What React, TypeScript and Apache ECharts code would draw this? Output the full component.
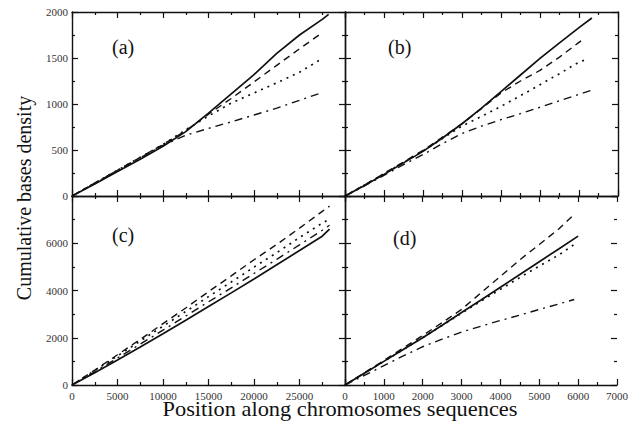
import React, { useEffect, useRef } from "react";
import * as echarts from "echarts";

// Panel (a): cumulative base density along the long sequences
const posA = [0, 2500, 5000, 7500, 10000, 12500, 15000, 17500, 20000, 22500, 25000, 27500, 28200];
const solidA = [0, 130, 265, 400, 540, 700, 900, 1110, 1320, 1550, 1750, 1920, 1975];
const dashedA = [0, 140, 280, 420, 560, 710, 890, 1060, 1240, 1420, 1600, 1775, null];
const dottedA = [0, 140, 280, 420, 560, 720, 870, 1010, 1120, 1230, 1345, 1495, null];
const dashDotA = [0, 140, 280, 415, 550, 660, 735, 806, 880, 955, 1040, 1125, null];

// Panel (b)
const posB = [0, 500, 1000, 1500, 2000, 2500, 3000, 3500, 4000, 4500, 5000, 5500, 6000, 6150, 6330];
const solidB = [0, 115, 235, 360, 485, 630, 785, 955, 1135, 1315, 1495, 1665, 1830, null, 1935];
const dashedB = [0, 120, 245, 370, 495, 640, 785, 950, 1120, 1250, 1365, 1510, 1670, 1717, null];
const dottedB = [0, 120, 240, 365, 490, 625, 760, 865, 975, 1090, 1210, 1330, 1455, 1478, null];
const dashDotB = [0, 110, 225, 340, 450, 570, 680, 760, 830, 895, 965, 1035, 1105, null, 1152];

// Panel (c)
const posC = [0, 2500, 5000, 7500, 10000, 12500, 15000, 17500, 20000, 22500, 25000, 27500, 28300];
const solidC = [0, 520, 1060, 1610, 2170, 2740, 3320, 3900, 4490, 5090, 5690, 6300, 6600];
const dashedC = [0, 630, 1280, 1930, 2600, 3260, 3950, 4620, 5300, 5950, 6640, 7350, 7570];
const dottedC = [0, 610, 1230, 1860, 2490, 3110, 3740, 4360, 4990, 5600, 6240, 6850, 7030];
const dashDotC = [0, 560, 1140, 1730, 2320, 2920, 3520, 4110, 4720, 5320, 5930, 6550, 6760];

// Panel (d)
const posD = [0, 500, 1000, 1500, 2000, 2500, 3000, 3500, 4000, 4500, 5000, 5500, 5900, 6000];
const solidD = [0, 500, 1000, 1500, 2000, 2530, 3070, 3600, 4140, 4680, 5220, 5760, null, 6300];
const dashedD = [0, 520, 1040, 1570, 2100, 2640, 3200, 3900, 4600, 5300, 5950, 6600, 7230, null];
const dottedD = [0, 500, 1000, 1500, 2010, 2520, 3040, 3550, 4050, 4550, 5030, 5500, 5950, null];
const dashDotD = [0, 410, 820, 1230, 1620, 1940, 2240, 2490, 2730, 2960, 3200, 3430, 3620, null];

const xTicksLeft = { max: 30000, interval: 5000 };
const xTicksRight = { max: 7000, interval: 1000 };
const yTicksTop = { max: 2000, interval: 500 };
const yTicksBottom = { max: 8000, interval: 2000 };

const FONT = '"Liberation Serif", "Times New Roman", serif';
const INK = "#111";

const pairs = (xs: number[], ys: (number | null)[]) =>
  xs.map((x, i) => [x, ys[i]] as [number, number | null]).filter((p) => p[1] !== null);

const grids = [
  { left: 72, top: 12, width: 273, height: 184 },
  { left: 345, top: 12, width: 273, height: 184 },
  { left: 72, top: 196, width: 273, height: 189 },
  { left: 345, top: 196, width: 273, height: 189 },
];

export default function App() {
  const ref = useRef<HTMLDivElement>(null);

  useEffect(() => {
    document.body.style.margin = "0";
    if (!ref.current) return;
    const chart = echarts.init(ref.current, undefined, { renderer: "svg" });

    const panelX = [xTicksLeft, xTicksRight, xTicksLeft, xTicksRight];
    const panelY = [yTicksTop, yTicksTop, yTicksBottom, yTicksBottom];

    const tick = () => ({
      show: true,
      inside: true,
      length: 6,
      lineStyle: { color: INK, width: 1.2 },
    });
    const minor = () => ({
      show: true,
      splitNumber: 2,
      length: 3,
      lineStyle: { color: INK, width: 1.2 },
    });
    const axisLine = (show = true) => ({
      show,
      onZero: false,
      lineStyle: { color: INK, width: 1.4 },
    });
    // a label at `hide` is left blank (it sits on a neighbouring panel's edge)
    const label = (hide: number | null) => ({
      fontFamily: FONT,
      fontSize: 11,
      color: "#333",
      formatter: (v: number) => (v === hide ? "" : String(v)),
    });

    const xAxis: any[] = [];
    const yAxis: any[] = [];
    for (let g = 0; g < 4; g++) {
      const xs = panelX[g];
      const ys = panelY[g];
      // bottom x axis (carries the series)
      xAxis.push({
        type: "value",
        gridIndex: g,
        position: "bottom",
        z: 10,
        min: 0,
        max: xs.max,
        interval: xs.interval,
        axisLine: axisLine(),
        axisTick: tick(),
        minorTick: minor(),
        splitLine: { show: false },
        axisLabel: { show: g >= 2, margin: 5, ...label(g === 2 ? xs.max : null) },
      });
      // mirrored top x axis
      xAxis.push({
        type: "value",
        gridIndex: g,
        position: "top",
        z: 10,
        min: 0,
        max: xs.max,
        interval: xs.interval,
        axisLine: axisLine(),
        axisTick: tick(),
        minorTick: minor(),
        splitLine: { show: false },
        axisLabel: { show: false },
      });
      // left y axis (carries the series)
      yAxis.push({
        type: "value",
        gridIndex: g,
        position: "left",
        z: 10,
        min: 0,
        max: ys.max,
        interval: ys.interval,
        axisLine: axisLine(),
        axisTick: tick(),
        minorTick: minor(),
        splitLine: { show: false },
        axisLabel: { show: g === 0 || g === 2, margin: 4, ...label(g === 2 ? ys.max : null) },
      });
      // mirrored right y axis
      yAxis.push({
        type: "value",
        gridIndex: g,
        position: "right",
        z: 10,
        min: 0,
        max: ys.max,
        interval: ys.interval,
        axisLine: axisLine(g !== 3),
        axisTick: tick(),
        minorTick: minor(),
        splitLine: { show: false },
        axisLabel: { show: false },
      });
    }

    const styles: Record<string, any> = {
      solid: { type: "solid", width: 1.7 },
      dashed: { type: [7, 5], width: 1.4 },
      dotted: { type: [2, 5], width: 1.7 },
      dashDot: { type: [8, 5, 2, 5], width: 1.4 },
    };

    const panels = [
      { x: posA, s: { solid: solidA, dashed: dashedA, dotted: dottedA, dashDot: dashDotA } },
      { x: posB, s: { solid: solidB, dashed: dashedB, dotted: dottedB, dashDot: dashDotB } },
      { x: posC, s: { solid: solidC, dashed: dashedC, dotted: dottedC, dashDot: dashDotC } },
      { x: posD, s: { solid: solidD, dashed: dashedD, dotted: dottedD, dashDot: dashDotD } },
    ];

    const series: any[] = [];
    panels.forEach((p, g) => {
      Object.entries(p.s).forEach(([kind, ys]) => {
        series.push({
          type: "line",
          name: `${kind}-${g}`,
          xAxisIndex: g * 2,
          yAxisIndex: g * 2,
          data: pairs(p.x, ys as (number | null)[]),
          showSymbol: false,
          symbol: "none",
          lineStyle: { color: INK, ...styles[kind] },
        });
      });
    });

    const panelLabel = (text: string, x: number, y: number) => ({
      type: "text",
      x,
      y,
      style: {
        text,
        font: `20px ${FONT}`,
        fill: INK,
        align: "left",
        verticalAlign: "middle",
      },
    });

    chart.setOption({
      animation: false,
      grid: grids,
      xAxis,
      yAxis,
      series,
      graphic: [
        panelLabel("(a)", 112, 47),
        panelLabel("(b)", 388, 47),
        panelLabel("(c)", 112, 235),
        panelLabel("(d)", 393, 238),
        {
          type: "text",
          x: 24,
          y: 198,
          rotation: Math.PI / 2,
          style: {
            text: "Cumulative bases density",
            font: `20px ${FONT}`,
            fill: INK,
            align: "center",
            verticalAlign: "middle",
          },
        },
        {
          type: "text",
          x: 340,
          y: 409,
          scaleX: 1.12,
          style: {
            text: "Position along chromosomes sequences",
            font: `20px ${FONT}`,
            fill: INK,
            align: "center",
            verticalAlign: "middle",
          },
        },
      ],
    });

    return () => chart.dispose();
  }, []);

  return <div ref={ref} style={{ width: 631, height: 435 }} />;
}
